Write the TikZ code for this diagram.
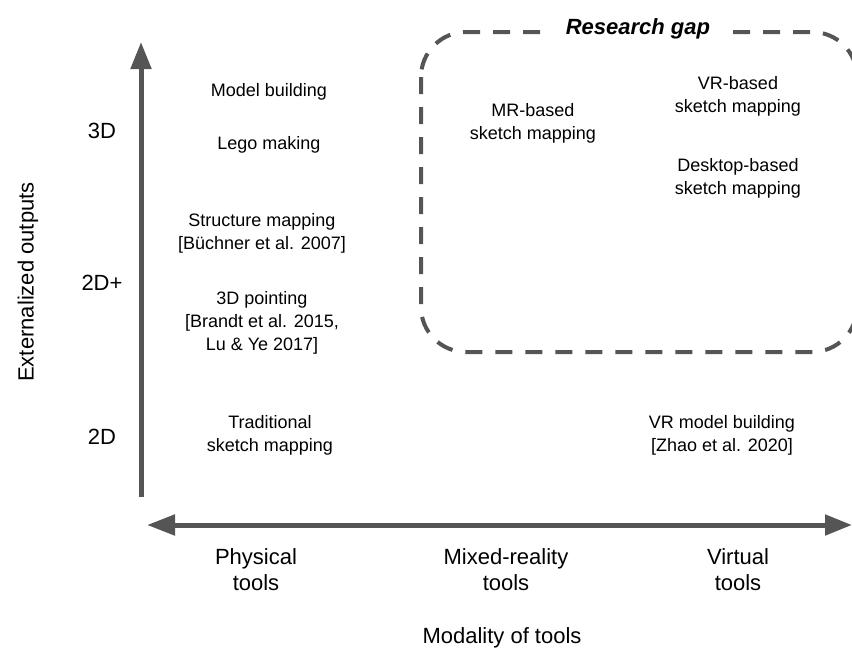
\documentclass[tikz,border=0pt]{standalone}
\usepackage{fontspec}
\setmainfont{Liberation Sans}
\usetikzlibrary{arrows.meta}

\definecolor{axisgray}{HTML}{555555}

\tikzset{
  item/.style={align=center, font=\fontsize{18}{23}\selectfont},
  axislabel/.style={align=center, font=\fontsize{22}{26}\selectfont},
  axisline/.style={draw=axisgray, line width=5pt},
  tip/.style={-{Triangle[length=27pt,width=20pt]}},
  gapbox/.style={draw=axisgray, line width=4pt, dash pattern=on 17pt off 13pt, rounded corners=45pt},
}

\begin{document}
\begin{tikzpicture}[x=1pt,y=-1pt]
    \clip (0,0) rectangle (852,651);

    % axes
    \coordinate (origin) at (141,497);
    \coordinate (ytop) at (141,42);
    \coordinate (xleft) at (147,525);
    \coordinate (xright) at (852,525);
    \draw[axisline,tip](origin)--(ytop);
    \draw[axisline,{Triangle[length=28pt,width=20pt]}-{Triangle[length=27pt,width=20pt]}](xleft)--(xright);

    % research gap box
    \draw[gapbox](421,32) rectangle (857,352);
    \node[fill=white, inner xsep=17pt, inner ysep=2pt, font=\fontsize{22}{26}\selectfont\bfseries\itshape] (gap) at (638,29) {Research gap};

    % y-axis
    \node[axislabel, rotate=90] (ylabel) at (28,282) {Externalized outputs};
    \node[axislabel] (l3d) at (102,131) {3D};
    \node[axislabel] (l2dplus) at (102,283) {2D+};
    \node[axislabel] (l2d) at (102,437) {2D};

    % x-axis
    \node[axislabel] (physical) at (256,570) {Physical\\tools};
    \node[axislabel] (mixed) at (506,570) {Mixed-reality\\tools};
    \node[axislabel] (virtual) at (738,570) {Virtual\\tools};
    \node[axislabel] (xlabel) at (502,638) {Modality of tools};

    % physical tools
    \node[item] (model) at (269,92) {Model building};
    \node[item] (lego) at (269,145) {Lego making};
    \node[item] (structure) at (262,233) {Structure mapping\\{[}B\"uchner et al. 2007{]}};
    \node[item] (pointing) at (262,323) {3D pointing\\{[}Brandt et al. 2015,\\Lu \& Ye 2017{]}};
    \node[item] (traditional) at (270,435) {Traditional\\sketch mapping};

    % mixed-reality and virtual tools
    \node[item] (mr) at (533,123) {MR-based\\sketch mapping};
    \node[item] (vr) at (738,96) {VR-based\\sketch mapping};
    \node[item] (desktop) at (738,178) {Desktop-based\\sketch mapping};
    \node[item] (vrmodel) at (722,435) {VR model building\\{[}Zhao et al. 2020{]}};
\end{tikzpicture}
\end{document}
